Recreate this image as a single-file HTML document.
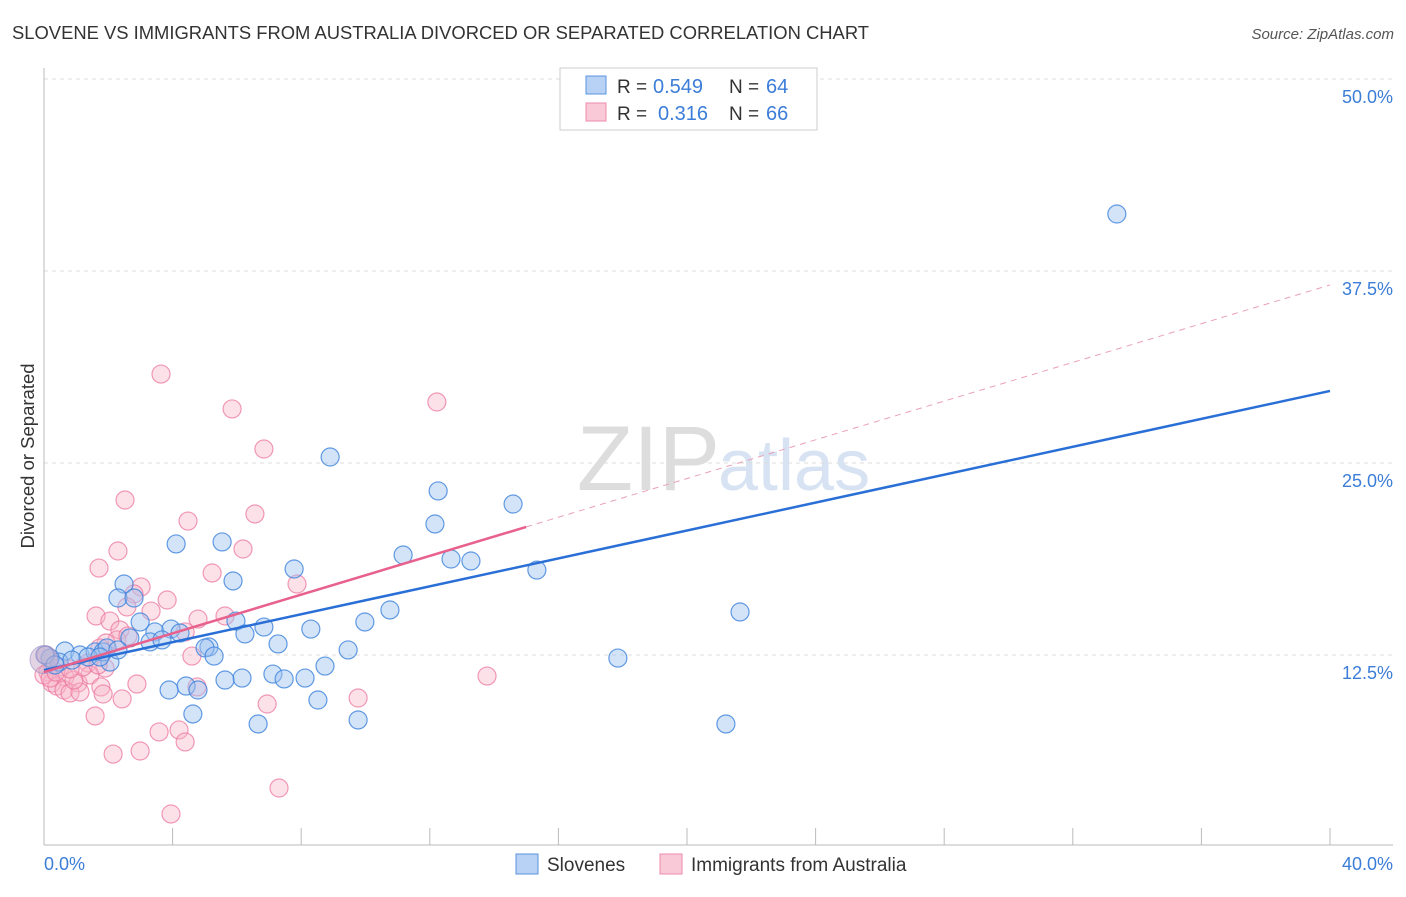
<!DOCTYPE html>
<html><head><meta charset="utf-8"><style>
body{margin:0;background:#fff;font-family:"Liberation Sans",sans-serif;}
svg text{font-family:"Liberation Sans",sans-serif;}
</style></head><body>
<svg id="chart" width="1406" height="892" viewBox="0 0 1406 892" xmlns="http://www.w3.org/2000/svg">
<text x="12" y="39" font-size="18.4" fill="#333">SLOVENE VS IMMIGRANTS FROM AUSTRALIA DIVORCED OR SEPARATED CORRELATION CHART</text>
<text x="1394" y="39" font-size="15" fill="#555" text-anchor="end" font-style="italic">Source: ZipAtlas.com</text>
<text x="720" y="490" font-size="92" fill="#ddd" text-anchor="end" font-family="Liberation Serif">ZIP</text>
<text x="718" y="490" font-size="72" fill="#d7e3f3">atlas</text>
<g id="grid"></g>
<line x1="44" y1="68" x2="44" y2="845" stroke="#bbb"/>
<line x1="44" y1="845" x2="1393" y2="845" stroke="#bbb"/>
<g id="xticks"></g>
<text transform="translate(34,456) rotate(-90)" font-size="18.5" fill="#333" text-anchor="middle">Divorced or Separated</text>
<text x="44" y="870" font-size="18" fill="#3b7dd8">0.0%</text>
<text x="1393" y="870" font-size="18" fill="#3b7dd8" text-anchor="end">40.0%</text>
<g id="pts"></g>
<g id="lines"></g>
<g>
<rect x="560" y="68" width="257" height="62" fill="#fff" stroke="#ccc"/>
<rect x="586" y="76" width="20" height="18" fill="#b8d2f5" stroke="#5b93de"/>
<rect x="586" y="103" width="20" height="18" fill="#f9c9d7" stroke="#ec8aa8"/>
<text x="617" y="93" font-size="19" fill="#333">R =</text>
<text x="653" y="93" font-size="20" fill="#3b7dd8">0.549</text>
<text x="729" y="93" font-size="19" fill="#333">N =</text>
<text x="766" y="93" font-size="20" fill="#3b7dd8">64</text>
<text x="617" y="120" font-size="19" fill="#333">R =</text>
<text x="658" y="120" font-size="20" fill="#3b7dd8">0.316</text>
<text x="729" y="120" font-size="19" fill="#333">N =</text>
<text x="766" y="120" font-size="20" fill="#3b7dd8">66</text>
</g>
<g>
<rect x="516" y="854" width="22" height="20" fill="#b8d2f5" stroke="#5b93de"/>
<text x="547" y="871" font-size="19" fill="#333">Slovenes</text>
<rect x="660" y="854" width="22" height="20" fill="#f9c9d7" stroke="#ec8aa8"/>
<text x="691" y="871" font-size="19" fill="#333">Immigrants from Australia</text>
</g>
</svg>
<script>
const yTicks=[12.5,25,37.5,50];
const yTickLabels=["12.5%","25.0%","37.5%","50.0%"];
const blueX=[33.37,8.90,12.26,14.59,12.16,4.11,5.54,11.17,12.66,13.28,15.33,7.78,2.49,5.88,2.30,2.80,10.76,21.65,2.99,9.98,5.97,6.84,8.30,3.45,3.95,4.23,2.67,6.25,3.30,3.67,7.28,5.13,5.01,9.46,5.29,17.85,8.74,0.65,1.12,1.59,2.05,0.47,0.19,1.84,1.96,2.30,7.12,7.47,6.16,8.12,5.63,4.42,3.89,4.79,8.52,4.63,6.66,9.77,21.21,0.03,0.87,1.37,1.74,0.34];
const blueY=[41.21,25.39,23.18,22.33,21.03,19.73,19.86,19.01,18.75,18.62,18.03,18.10,17.12,17.32,16.21,16.21,15.43,15.30,14.65,14.65,14.71,14.32,14.19,14.00,14.19,13.93,13.61,13.87,13.35,13.48,13.22,13.02,12.96,12.83,12.43,12.30,11.78,12.76,12.50,12.70,12.04,12.04,12.30,12.70,12.96,12.83,11.26,10.94,11.00,11.00,10.87,10.48,10.22,10.22,9.57,8.66,8.01,8.27,8.01,12.50,12.17,12.37,12.37,11.85];
const pinkX=[3.64,5.85,12.22,6.84,2.52,4.48,6.56,6.19,2.30,1.71,5.23,7.87,3.02,2.80,3.83,2.58,3.33,1.62,5.63,4.79,2.05,2.36,4.39,2.27,1.93,1.74,4.60,0.06,0.50,1.37,1.90,0.12,0.25,0.65,1.06,1.43,0.40,0.62,0.81,1.12,1.77,2.89,4.76,13.78,9.77,2.43,1.84,6.94,1.59,3.58,4.20,4.39,2.15,2.99,7.31,3.95,0.0,0.19,0.93,1.21,2.61,0.37,0.81,1.68];
const pinkY=[30.79,28.52,28.97,25.91,22.59,21.22,21.68,19.40,19.27,18.16,17.84,17.12,16.93,16.47,16.08,15.63,15.36,15.04,15.04,14.84,14.71,14.13,14.00,13.48,13.28,12.96,12.43,12.50,11.72,11.98,11.65,11.39,10.68,11.07,10.68,11.20,10.48,10.22,10.03,10.09,10.42,10.61,10.42,11.13,9.70,9.64,9.96,9.31,8.53,7.49,7.62,6.84,6.05,6.25,3.84,2.15,11.2,11.00,10.87,11.72,13.74,11.39,11.59,11.85];
const blueTrend=[11.52,29.69];
const pinkTrend=[11.39,36.59];
const pinkSolidEnd=15.0;
const NS="http://www.w3.org/2000/svg";
const sx=v=>44+v/40*1286;
const sy=v=>847-v*15.36;
function mk(tag,attrs,parent){const e=document.createElementNS(NS,tag);for(const k in attrs)e.setAttribute(k,attrs[k]);parent.appendChild(e);return e;}
const grid=document.getElementById('grid');
yTicks.forEach((t,i)=>{
 const l=mk('line',{x1:44,x2:1393,y1:sy(t),y2:sy(t),stroke:'#ddd','stroke-dasharray':'4,4'},grid);
 
 
 const tx=mk('text',{x:1393,y:sy(t)+24,'font-size':18,fill:'#3b7dd8','text-anchor':'end'},grid);
 tx.textContent=yTickLabels[i];
 
 
});
const xt=document.getElementById('xticks');
for(let i=1;i<=10;i++){
 const l=mk('line',{x1:sx(i*4),x2:sx(i*4),y1:828,y2:845,stroke:'#bbb'},xt);
 
 
}
const pts=document.getElementById('pts');
function dots(X,Y,fill,stroke,name){
 X.forEach((x,i)=>{
  const c=mk('circle',{cx:sx(x),cy:sy(Y[i]),r:9,fill:fill,stroke:stroke,'stroke-width':1.2},pts);
  
  
 });
}
dots(pinkX,pinkY,'rgba(248,180,200,0.4)','rgba(236,120,160,0.75)','pink-point');
dots(blueX,blueY,'rgba(160,196,240,0.45)','rgba(60,130,220,0.8)','blue-point');
const big=mk('circle',{cx:sx(0),cy:sy(12.2),r:14,fill:'rgba(200,170,200,0.5)',stroke:'rgba(150,140,200,0.6)'},pts);


const ln=document.getElementById('lines');
const pt=v=>pinkTrend[0]+(pinkTrend[1]-pinkTrend[0])*v/40;
let a=mk('line',{x1:sx(0),y1:sy(blueTrend[0]),x2:sx(40),y2:sy(blueTrend[1]),stroke:'#2a6fd6','stroke-width':2.5},ln);


let b=mk('line',{x1:sx(0),y1:sy(pinkTrend[0]),x2:sx(pinkSolidEnd),y2:sy(pt(pinkSolidEnd)),stroke:'#e8608c','stroke-width':2.5},ln);


let c=mk('line',{x1:sx(pinkSolidEnd),y1:sy(pt(pinkSolidEnd)),x2:sx(40),y2:sy(pinkTrend[1]),stroke:'#eaa0b8','stroke-width':1,'stroke-dasharray':'6,5'},ln);


</script>
</body></html>
